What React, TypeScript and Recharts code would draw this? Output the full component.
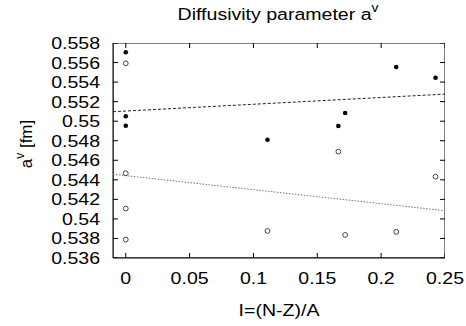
import { ComposedChart, Scatter, XAxis, YAxis } from "recharts";

const FONT = "'Liberation Sans', Arial, sans-serif";

const xTicks = [0, 0.05, 0.1, 0.15, 0.2, 0.25];
const yTicks = [0.536, 0.538, 0.54, 0.542, 0.544, 0.546, 0.548, 0.55, 0.552, 0.554, 0.556, 0.558];
const xDomain = [-0.01, 0.25];
const yDomain = [0.536, 0.558];

// filled points (black dots)
const filledPts = [
  { x: 0, y: 0.55705 },
  { x: 0, y: 0.5505 },
  { x: 0, y: 0.54954 },
  { x: 0.111, y: 0.5481 },
  { x: 0.1665, y: 0.5495 },
  { x: 0.1718, y: 0.55084 },
  { x: 0.2118, y: 0.55554 },
  { x: 0.2426, y: 0.55445 },
];

// open points (circles)
const openPts = [
  { x: 0, y: 0.55592 },
  { x: 0, y: 0.54467 },
  { x: 0, y: 0.54106 },
  { x: 0, y: 0.53788 },
  { x: 0.111, y: 0.53877 },
  { x: 0.1665, y: 0.54688 },
  { x: 0.1718, y: 0.53836 },
  { x: 0.2118, y: 0.53867 },
  { x: 0.2426, y: 0.54432 },
];

// fit lines, end points
const filledFit = [
  { x: -0.01, y: 0.55097 },
  { x: 0.25, y: 0.55277 },
];
const openFit = [
  { x: -0.01, y: 0.54457 },
  { x: 0.25, y: 0.54084 },
];

// plot border, corner to corner
const frame = [
  { x: xDomain[0], y: yDomain[0] },
  { x: xDomain[1], y: yDomain[0] },
  { x: xDomain[1], y: yDomain[1] },
  { x: xDomain[0], y: yDomain[1] },
  { x: xDomain[0], y: yDomain[0] },
];

// tick anchor points on the four edges
const bottomTicks = xTicks.map((v) => ({ x: v, y: yDomain[0] }));
const topTicks = xTicks.map((v) => ({ x: v, y: yDomain[1] }));
const leftTicks = yTicks.map((v) => ({ x: xDomain[0], y: v }));
const rightTicks = yTicks.map((v) => ({ x: xDomain[1], y: v }));

const TICK = 5;

const fmt = (v: number) => String(Number(v.toFixed(3)));

function YTick(props: any) {
  const { x, y, payload } = props;
  return (
    <text x={0} y={0} transform={`translate(${x},${y}) scale(1.15,1)`} textAnchor="end" dy="0.35em" fontSize={17} fontFamily={FONT} fill="#000">
      {fmt(payload.value)}
    </text>
  );
}

function XTick(props: any) {
  const { x, y, payload } = props;
  return (
    <text x={0} y={0} transform={`translate(${x},${y}) scale(1.15,1)`} textAnchor="middle" dy={12} fontSize={17} fontFamily={FONT} fill="#000">
      {fmt(payload.value)}
    </text>
  );
}

const dot = (props: any) => <circle cx={props.cx} cy={props.cy} r={2.3} fill="#000" />;
const ring = (props: any) => (
  <circle cx={props.cx} cy={props.cy} r={2.4} fill="none" stroke="#444" strokeWidth={1} />
);
const none = () => <g />;

const tickMark = (dx: number, dy: number) => (props: any) => (
  <line x1={props.cx} y1={props.cy} x2={props.cx + dx} y2={props.cy + dy} stroke="#000" strokeWidth={1} />
);
const tickUp = tickMark(0, -TICK);
const tickDown = tickMark(0, TICK);
const tickRight = tickMark(TICK, 0);
const tickLeft = tickMark(-TICK, 0);

export default function App() {
  const axisLine = { stroke: "#000", strokeWidth: 1 };
  return (
    <div style={{ position: "absolute", left: 0, top: 0, width: 466, height: 326, background: "#fff" }}>
      <ComposedChart width={466} height={326} margin={{ top: 43, right: 21, bottom: 38, left: 53 }}>
        <XAxis
          type="number"
          dataKey="x"
          domain={xDomain}
          ticks={xTicks}
          interval={0}
          allowDataOverflow
          height={30}
          tickSize={0}
          tickMargin={14}
          tickLine={false}
          axisLine={axisLine}
          tick={XTick}
        />
        <YAxis
          type="number"
          dataKey="y"
          domain={yDomain}
          ticks={yTicks}
          interval={0}
          allowDataOverflow
          width={60}
          tickSize={0}
          tickMargin={13}
          tickLine={false}
          axisLine={axisLine}
          tick={YTick}
        />
        <Scatter data={frame} line={{ stroke: "#000", strokeWidth: 1 }} shape={none} isAnimationActive={false} />
        <Scatter data={bottomTicks} shape={tickUp} isAnimationActive={false} />
        <Scatter data={topTicks} shape={tickDown} isAnimationActive={false} />
        <Scatter data={leftTicks} shape={tickRight} isAnimationActive={false} />
        <Scatter data={rightTicks} shape={tickLeft} isAnimationActive={false} />
        <Scatter
          data={filledFit}
          line={{ stroke: "#222", strokeWidth: 1, strokeDasharray: "3 2" }}
          shape={none}
          isAnimationActive={false}
        />
        <Scatter
          data={openFit}
          line={{ stroke: "#777", strokeWidth: 1, strokeDasharray: "1.5 1.5" }}
          shape={none}
          isAnimationActive={false}
        />
        <Scatter data={filledPts} shape={dot} isAnimationActive={false} />
        <Scatter data={openPts} shape={ring} isAnimationActive={false} />
        <text x={0} y={0} transform="translate(278,19.5) scale(1.15,1)" textAnchor="middle" fontSize={17} fontFamily={FONT} fill="#000">
          <tspan>Diffusivity parameter a</tspan>
          <tspan dy={-8} fontSize={12}>v</tspan>
        </text>
        <text x={0} y={0} transform="translate(279,316) scale(1.15,1)" textAnchor="middle" fontSize={17} fontFamily={FONT} fill="#000">
          I=(N-Z)/A
        </text>
        <text x={0} y={0} transform="translate(31.5,144) rotate(-90)" textAnchor="middle" fontSize={17} fontFamily={FONT} fill="#000">
          <tspan>a</tspan>
          <tspan dy={-8} fontSize={12}>v</tspan>
          <tspan dy={8}> [fm]</tspan>
        </text>
      </ComposedChart>
    </div>
  );
}
